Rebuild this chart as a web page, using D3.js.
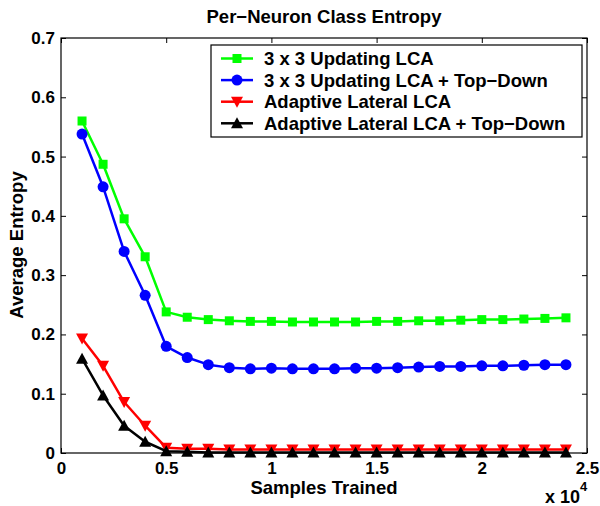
<!DOCTYPE html>
<html><head><meta charset="utf-8">
<script src="https://cdn.jsdelivr.net/npm/d3@7"></script>
<style>body{margin:0;background:#fff}svg{display:block}text{font-family:"Liberation Sans",Arial,sans-serif;font-weight:bold;fill:#000}</style>
</head><body>
<svg id="c" width="600" height="506"></svg>
<script>
const samples = [1000,2000,3000,4000,5000,6000,7000,8000,9000,10000,11000,12000,13000,14000,15000,16000,17000,18000,19000,20000,21000,22000,23000,24000];
const greenVals = [0.560,0.487,0.395,0.331,0.238,0.229,0.225,0.223,0.222,0.222,0.221,0.221,0.221,0.221,0.222,0.222,0.223,0.223,0.224,0.225,0.225,0.226,0.227,0.228];
const blueVals  = [0.538,0.449,0.340,0.266,0.180,0.161,0.149,0.144,0.142,0.143,0.142,0.142,0.142,0.143,0.143,0.144,0.145,0.146,0.146,0.147,0.147,0.148,0.149,0.149];
const redVals   = [0.193,0.147,0.086,0.046,0.009,0.007,0.007,0.006,0.006,0.006,0.006,0.006,0.006,0.006,0.006,0.006,0.006,0.006,0.006,0.006,0.006,0.006,0.006,0.006];
const blackVals = [0.159,0.097,0.046,0.019,0.003,0.002,0.001,0.001,0.001,0.001,0.001,0.001,0.001,0.001,0.001,0.001,0.001,0.001,0.001,0.001,0.001,0.001,0.001,0.001];
const seriesNames = ["3 x 3 Updating LCA","3 x 3 Updating LCA + Top\u2212Down","Adaptive Lateral LCA","Adaptive Lateral LCA + Top\u2212Down"];
const xTicks = [0,5000,10000,15000,20000,25000];
const xTickLabels = ["0","0.5","1","1.5","2","2.5"];
const yTicks = [0,0.1,0.2,0.3,0.4,0.5,0.6,0.7];
const yTickLabels = ["0","0.1","0.2","0.3","0.4","0.5","0.6","0.7"];

const series = [
  {name:seriesNames[0], vals:greenVals, color:"#00ff00", marker:"square"},
  {name:seriesNames[1], vals:blueVals, color:"#0000ff", marker:"circle"},
  {name:seriesNames[2], vals:redVals, color:"#ff0000", marker:"down"},
  {name:seriesNames[3], vals:blackVals, color:"#000000", marker:"up"}
];

const svg = d3.select("#c");
const L=61, R=587, T=38, B=453;
const x = d3.scaleLinear().domain([0,25000]).range([L,R]);
const y = d3.scaleLinear().domain([0,0.7]).range([B,T]);

const tl = 5;
const axB = svg.append("g").attr("transform",`translate(0,${B})`)
  .call(d3.axisBottom(x).tickValues(xTicks).tickSize(-tl).tickFormat((d,i)=>xTickLabels[i]).tickPadding(9));
const axT = svg.append("g").attr("transform",`translate(0,${T})`)
  .call(d3.axisTop(x).tickValues(xTicks).tickSize(-tl).tickFormat(""));
const axL = svg.append("g").attr("transform",`translate(${L},0)`)
  .call(d3.axisLeft(y).tickValues(yTicks).tickSize(-tl).tickFormat((d,i)=>yTickLabels[i]).tickPadding(6));
const axR = svg.append("g").attr("transform",`translate(${R},0)`)
  .call(d3.axisRight(y).tickValues(yTicks).tickSize(-tl).tickFormat(""));
[axB,axT,axL,axR].forEach(a=>{
  a.select(".domain").remove();
  a.selectAll("line").attr("stroke","#000").attr("stroke-width",1);
  a.selectAll("text").style("font-size","17px").style("font-weight","bold").attr("fill","#000");
});
axB.selectAll("text").attr("dy","0.71em");
svg.append("rect").attr("x",L).attr("y",T).attr("width",R-L).attr("height",B-T)
  .attr("fill","none").attr("stroke","#000").attr("stroke-width",1.2);

function drawMarker(g, type, cx, cy, color){
  if(type==="square"){
    g.append("rect").attr("x",cx-4.5).attr("y",cy-4.5).attr("width",9).attr("height",9).attr("fill",color);
  } else if(type==="circle"){
    g.append("circle").attr("cx",cx).attr("cy",cy).attr("r",5.5).attr("fill",color);
  } else if(type==="down"){
    g.append("path").attr("d",`M${cx-6},${cy-5}L${cx+6},${cy-5}L${cx},${cy+6}Z`).attr("fill",color);
  } else {
    g.append("path").attr("d",`M${cx-6},${cy+5}L${cx+6},${cy+5}L${cx},${cy-6}Z`).attr("fill",color);
  }
}

const line = d3.line().x(d=>x(d[0])).y(d=>y(d[1]));
series.forEach(s=>{
  const pts = samples.map((v,i)=>[v,s.vals[i]]);
  const g = svg.append("g");
  g.append("path").attr("d",line(pts)).attr("fill","none").attr("stroke",s.color).attr("stroke-width",2.5).attr("stroke-linejoin","round");
  pts.forEach(p=>drawMarker(g,s.marker,x(p[0]),y(p[1]),s.color));
});

// legend
const lg = svg.append("g");
lg.append("rect").attr("x",211).attr("y",45).attr("width",371).attr("height",92).attr("fill","#fff").attr("stroke","#000").attr("stroke-width",1.2);
series.forEach((s,i)=>{
  const cy = 58.5 + i*21.6;
  lg.append("line").attr("x1",221).attr("x2",253).attr("y1",cy).attr("y2",cy).attr("stroke",s.color).attr("stroke-width",2.5);
  drawMarker(lg,s.marker,237,cy,s.color);
  lg.append("text").attr("x",264).attr("y",cy).attr("dy","0.36em").style("font-size","18.5px").text(s.name);
});

svg.append("text").attr("x",324).attr("y",23).attr("text-anchor","middle").style("font-size","18.5px").text("Per\u2212Neuron Class Entropy");
svg.append("text").attr("x",324).attr("y",494).attr("text-anchor","middle").style("font-size","18.5px").text("Samples Trained");
svg.append("text").attr("transform","translate(23,245) rotate(-90)").attr("text-anchor","middle").style("font-size","18.5px").text("Average Entropy");
const ex = svg.append("text").attr("x",545).attr("y",503).style("font-size","18px");
ex.append("tspan").text("x 10");
ex.append("tspan").attr("dy",-12).style("font-size","13px").text("4");
</script>
</body></html>
